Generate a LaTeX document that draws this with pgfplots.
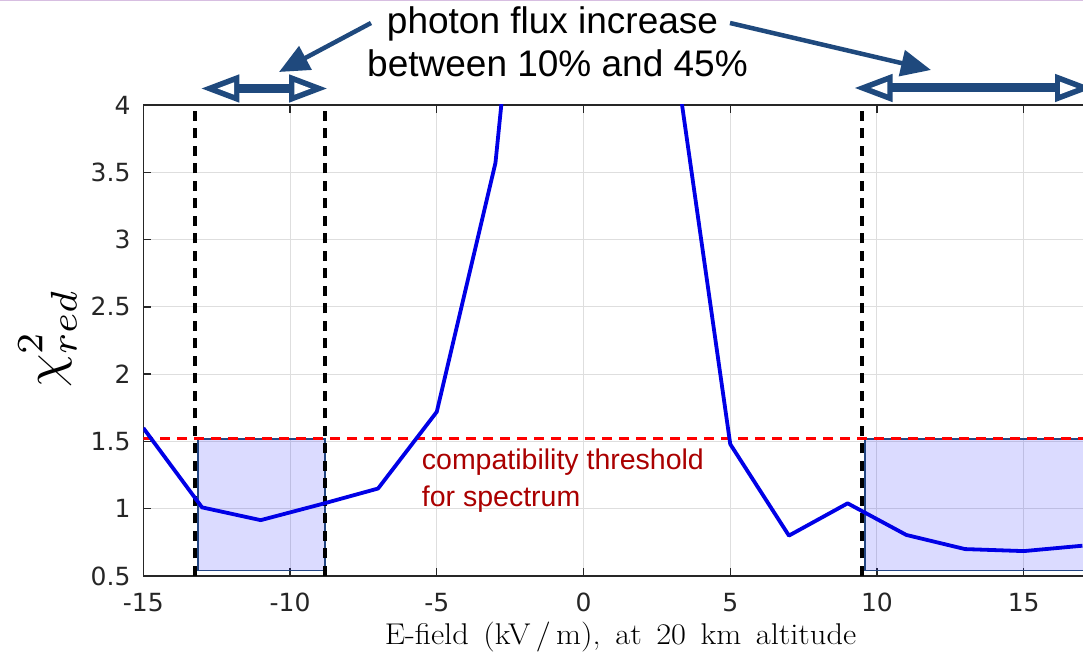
\documentclass[border=0pt]{standalone}
\usepackage{pgfplots}
\pgfplotsset{compat=1.18}
\usepackage{fontspec}
\usetikzlibrary{arrows.meta}
\newfontfamily\dejavu{DejaVu Sans}
\newfontfamily\arial{Liberation Sans}
\definecolor{arrowblue}{RGB}{31,73,125}
\definecolor{curveblue}{RGB}{0,0,230}
\definecolor{boxedge}{RGB}{35,70,130}
\definecolor{txtred}{RGB}{170,0,0}
\definecolor{axgray}{RGB}{38,38,38}
\definecolor{gridgray}{RGB}{222,222,222}
\definecolor{topline}{RGB}{215,190,225}
\tikzset{openhead/.pic={
  \fill[arrowblue] (0,0) -- (37.6,14.2) -- (37.6,-14.2) -- cycle;
  \fill[white] (16,0) -- (32.4,6.2) -- (32.4,-6.2) -- cycle;
}}
\begin{document}
\begin{tikzpicture}[x=1pt,y=1pt]
\begin{axis}[
  at={(143.3pt,79pt)}, anchor=south west,
  scale only axis, width=947.9pt, height=471pt,
  xmin=-15, xmax=17.3, ymin=0.5, ymax=4,
  xtick={-15,-10,-5,0,5,10,15},
  xticklabels={-15,-10,-5,0,5,10,15},
  ytick={0.5,1,1.5,2,2.5,3,3.5,4},
  yticklabels={0.5,1,1.5,2,2.5,3,3.5,4},
  tick align=inside, major tick length=8pt,
  grid=major, major grid style={gridgray, line width=1pt},
  axis line style={axgray, line width=1.3pt},
  every tick/.style={axgray, line width=1.3pt},
  tick label style={font=\dejavu\fontsize{25}{29}\selectfont, text=axgray, inner sep=0pt},
  xticklabel style={anchor=north, yshift=-17pt},
  yticklabel style={anchor=east, xshift=-12.6pt},
  clip=true,
]
% shaded regions
\addplot[draw=boxedge, line width=1.6pt, fill=blue, fill opacity=0.14] coordinates {(-13.14,0.54) (-8.8,0.54) (-8.8,1.52) (-13.14,1.52)} -- cycle;
\addplot[draw=boxedge, line width=1.6pt, fill=blue, fill opacity=0.14] coordinates {(9.6,0.54) (18,0.54) (18,1.52) (9.6,1.52)} -- cycle;
% black dashed limits
\addplot[black, line width=3.6pt, dash pattern=on 10pt off 7.5pt] coordinates {(-13.24,0.5) (-13.24,4)};
\addplot[black, line width=3.6pt, dash pattern=on 10pt off 7.5pt] coordinates {(-8.8,0.5) (-8.8,4)};
\addplot[black, line width=3.6pt, dash pattern=on 10pt off 7.5pt] coordinates {(9.49,0.5) (9.49,4)};
% threshold
\addplot[red, line width=3.4pt, dash pattern=on 10pt off 7pt] coordinates {(-15,1.52) (17.3,1.52)};
% chi2 curve
\addplot[curveblue, line width=3.8pt, line join=round] coordinates {
(-15,1.60) (-13,1.01) (-11,0.915) (-9,1.03) (-7,1.15) (-5,1.72) (-3,3.57)
(-1,7.9) (1,9.0) (3,4.55) (5,1.48) (7,0.80) (9,1.04) (11,0.805) (13,0.70)
(15,0.685) (17,0.725)};
\end{axis}
% labels
\node[font=\fontsize{30}{34}\selectfont, anchor=base, inner sep=0pt, xscale=1.08] at (620.5,10) {\spaceskip=0.45em E-field (kV\,/\,m), at 20 km altitude};
\node[scale=5.3, rotate=90, inner sep=0pt] at (47.5,317) {$\chi^2_{red}$};
\node[font=\arial\fontsize{28.5}{34}\selectfont, text=txtred, anchor=base west, inner sep=0pt] at (421.7,185) {compatibility threshold};
\node[font=\arial\fontsize{28.5}{34}\selectfont, text=txtred, anchor=base west, inner sep=0pt] at (421.7,148.3) {for spectrum};
% annotation
\node[font=\arial\fontsize{37}{43}\selectfont, anchor=base, inner sep=0pt] at (552.5,621) {photon flux increase};
\node[font=\arial\fontsize{37}{43}\selectfont, anchor=base, inner sep=0pt] at (557.5,578) {between 10\% and 45\%};
\draw[arrowblue, line width=4.5pt, -{Triangle[length=30pt,width=26pt]}] (371,632) -- (279,583);
\draw[arrowblue, line width=4.5pt, -{Triangle[length=30pt,width=26pt]}] (730,632) -- (931,585);
\fill[arrowblue] (238,562) rectangle (291,571);
\pic at (201.7,566.5) {openhead};
\pic[rotate=180] at (326.7,566.5) {openhead};
\fill[arrowblue] (891,562.5) rectangle (1057,571.5);
\pic at (855,567) {openhead};
\pic[rotate=180] at (1092.6,567) {openhead};
\draw[topline, line width=1.5pt] (0,654.3) -- (1083,654.3);
\pgfresetboundingbox
\path[use as bounding box] (0,0) rectangle (1083,655);
\end{tikzpicture}
\end{document}
